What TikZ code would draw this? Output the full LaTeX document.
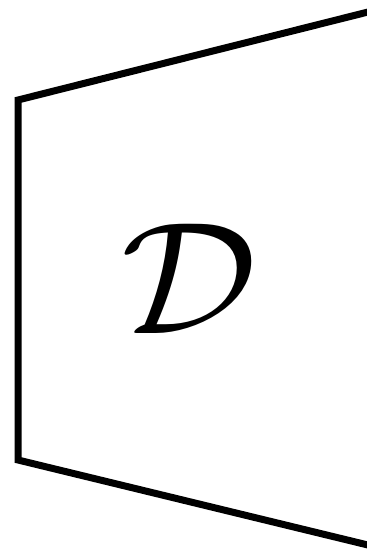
\documentclass[tikz,border=0pt]{standalone}
\usepackage{graphicx}
\begin{document}
\begin{tikzpicture}[x=1pt,y=-1pt,
  edge/.style={line width=7pt,line join=miter,black}]
\useasboundingbox (0,0) rectangle (367,552);
\coordinate (tr) at (372,11);
\coordinate (tl) at (18,100);
\coordinate (bl) at (18,460);
\coordinate (br) at (372,546);
\draw[edge] (tr) -- (tl) -- (bl) -- (br);
\node (lab) at (189,279) {\scalebox{17}[16]{$\mathcal{D}$}};
\end{tikzpicture}
\end{document}
